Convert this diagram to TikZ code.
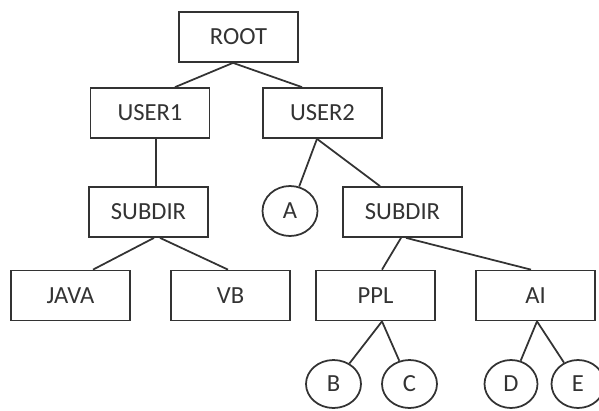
\documentclass[tikz,border=0pt]{standalone}
\usepackage{fontspec}
\setmainfont{Carlito}
\usepackage{tikz}
\usetikzlibrary{positioning,shapes.geometric}
\definecolor{inkgray}{HTML}{333333}

\begin{document}
\begin{tikzpicture}[
  x=0.02cm, y=-0.02cm,
  box/.style={draw=inkgray, line width=1pt, inner sep=0pt, minimum width=2.38cm, minimum height=1.0cm, text=inkgray, font=\fontsize{14}{16}\selectfont},
  leaf/.style={draw=inkgray, line width=1pt, ellipse, inner sep=0pt, minimum width=1.1cm, minimum height=0.96cm, text=inkgray, font=\fontsize{14}{16}\selectfont},
  link/.style={draw=inkgray, line width=1pt}
]
\useasboundingbox (0,0) rectangle (599,410);
\node[box] (root) at (238.5,37) {ROOT};
\node[box] (user1) at (150,113) {USER1};
\node[box] (user2) at (322.5,113) {USER2};
\node[box] (sub1) at (148.5,212) {SUBDIR};
\node[leaf, minimum height=1.0cm] (a) at (290,211) {A};
\node[box] (sub2) at (402.5,212) {SUBDIR};
\node[box] (java) at (70.5,295.5) {JAVA};
\node[box] (vb) at (230.5,295.5) {VB};
\node[box] (ppl) at (375.5,295.5) {PPL};
\node[box] (ai) at (535.5,295.5) {AI};
\node[leaf] (b) at (333.5,384) {B};
\node[leaf] (c) at (409.5,384) {C};
\node[leaf, minimum width=1.06cm] (d) at (511,384) {D};
\node[leaf, minimum width=1.06cm] (e) at (578,384) {E};
% top levels
\draw[link] ([xshift=-0.11cm]root.south) -- ([xshift=0.5cm]user1.north);
\draw[link] ([xshift=-0.11cm]root.south) -- ([xshift=-0.41cm]user2.north);
\draw[link] ([xshift=0.12cm]user1.south) -- ([xshift=0.15cm]sub1.north);
\draw[link] ([xshift=-0.11cm]user2.south) -- (a);
\draw[link] ([xshift=-0.11cm]user2.south) -- ([xshift=-0.45cm]sub2.north);
% subdirectories
\draw[link] ([xshift=0.11cm]sub1.south) -- ([xshift=0.45cm]java.north);
\draw[link] ([xshift=0.23cm]sub1.south) -- ([xshift=-0.05cm]vb.north);
\draw[link] ([xshift=-0.03cm]sub2.south) -- ([xshift=0.13cm]ppl.north);
\draw[link] ([xshift=0.07cm]sub2.south) -- ([xshift=-0.09cm]ai.north);
% files
\draw[link] ([xshift=0.13cm]ppl.south) -- (b);
\draw[link] ([xshift=0.13cm]ppl.south) -- (c);
\draw[link] ([xshift=0.03cm]ai.south) -- (d);
\draw[link] ([xshift=0.03cm]ai.south) -- (e);
\end{tikzpicture}
\end{document}
